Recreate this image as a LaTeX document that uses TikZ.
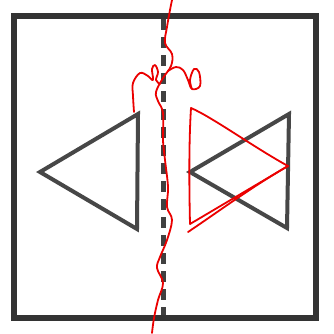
\documentclass[tikz,border=0pt]{standalone}
\begin{document}
\begin{tikzpicture}[x=1pt,y=-1pt,
  frame/.style={draw=black!80,line width=6pt,line join=miter},
  tri/.style={draw=black!72,line width=4pt,line join=miter},
  cut/.style={draw=black!75,line width=5pt,dash pattern=on 11pt off 7pt},
  redpen/.style={draw=red!92!black,line width=1.8pt,line cap=round,line join=round}]
\useasboundingbox (0,0) rectangle (334,333);
\fill[white] (0,0) rectangle (334,333);
% frame
\draw[frame] (14,16) rectangle (316,318);
% dashed centre line
\coordinate (dtop) at (163,19);
\coordinate (dbot) at (163,315);
\draw[cut] (dtop) -- (dbot);
% triangles
\draw[tri] (40,172) -- (138,114) -- (137,229) -- cycle;
\draw[tri] (190,172) -- (289,114) -- (287,228) -- cycle;
% red wavy line
\draw[redpen] plot[smooth,tension=0.6] coordinates {(172,0) (170,10) (167,27) (165,43) (172,54) (171,66) (163,78) (156,92) (158,101) (163,113) (163,140) (165,160) (168,187) (167,207) (172,220) (167,240) (160,257) (157,268) (163,283) (158,300) (154,318) (152,333)};
% left squiggle
\draw[redpen] plot[smooth,tension=0.6] coordinates {(134,112) (133,96) (133,83) (140,73) (148,76) (153,80) (152,69) (155,65) (158,72) (156,80) (160,84)};
% right squiggle
\draw[redpen] plot[smooth,tension=0.6] coordinates {(168,71) (176,67) (183,70) (188,80) (192,89) (200,86) (199,72) (194,69) (190,80) (192,89)};
% red triangle
\coordinate (rt) at (191,108);
\coordinate (rr) at (288,166);
\coordinate (rb) at (190,224);
\coordinate (rb2) at (188,232);
\draw[redpen] (rb) .. controls (189,180) and (189,140) .. (rt)
  .. controls (212,117) and (255,148) .. (rr) -- (rb);
\draw[redpen] (rr) .. controls (250,188) and (215,214) .. (rb2);
\end{tikzpicture}
\end{document}
